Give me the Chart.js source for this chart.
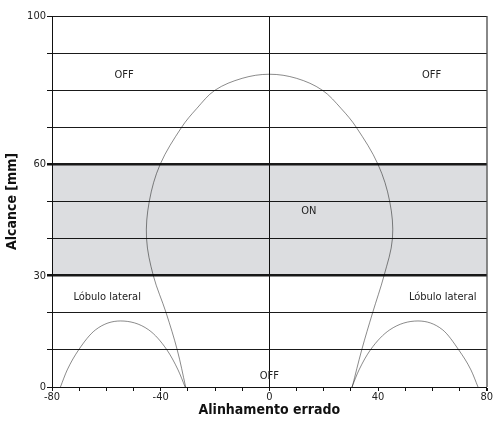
<!DOCTYPE html>
<html>
<head>
<meta charset="utf-8">
<script src="https://cdn.jsdelivr.net/npm/chart.js@4.4.1/dist/chart.umd.min.js"></script>
<style>
  html, body { margin: 0; padding: 0; background: #fff; overflow: hidden; }
  #wrap { width: 493px; height: 425px; }
</style>
</head>
<body>
<div id="wrap"><canvas id="myChart"></canvas></div>
<script>
const FONT = "'DejaVu Sans Condensed', 'Liberation Sans', Arial, sans-serif";

// main lobe (x = alinhamento, y = alcance)
const mainX = [-30.8, -33.9, -38, -42.7, -45.2, -44.2, -40.2, -32.3, -26.8, -20, -10, 0, 10, 19.5, 26.5, 32, 40, 44.3, 45.3, 42.2, 38, 34, 30.5];
const mainY = [0, 10, 20, 30, 40, 50, 60, 70, 75, 80, 83.2, 84.3, 83.2, 80, 75, 70, 60, 50, 40, 30, 20, 10, 0];

// side lobes
const leftLobeX = [-76.9, -74.4, -70.2, -64, -54.8, -44.4, -37.7, -33.6, -31];
const leftLobeY = [0, 4.6, 10, 15.4, 17.8, 15.4, 10, 4.6, 0];
const rightLobeX = [30.4, 33, 37.2, 44.3, 54.7, 63.8, 69.7, 74.2, 76.8];
const rightLobeY = [0, 4.6, 10, 15.4, 17.8, 15.4, 10, 4.6, 0];

// ON band
const bandX = [-80, 80];
const bandTop = [60, 60];
const bandBottom = 30;

const xTickLabels = [-80, -40, 0, 40, 80];
const yTickLabels = [0, 30, 60, 100];

const zoneText = ["OFF", "OFF", "ON", "Lóbulo lateral", "Lóbulo lateral", "OFF"];
const zoneX = [-53.5, 59.7, 14.5, -59.7, 63.8, 0];
const zoneY = [84, 84, 47.4, 24.3, 24.3, 3];

function pts(xs, ys) {
  return xs.map((x, i) => ({ x: x, y: ys[i] }));
}

// datasets are multiplied onto the grid so the lines under the band stay dark
const multiplyDatasets = {
  id: "multiplyDatasets",
  beforeDatasetsDraw(chart) {
    chart.ctx.save();
    chart.ctx.globalCompositeOperation = "multiply";
  },
  afterDatasetsDraw(chart) {
    chart.ctx.restore();
  }
};

const zoneLabels = {
  id: "zoneLabels",
  afterDraw(chart) {
    const c = chart.ctx;
    const xs = chart.scales.x, ys = chart.scales.y;
    c.save();
    c.font = "11px " + FONT;
    c.fillStyle = "#222";
    c.textAlign = "center";
    c.textBaseline = "middle";
    zoneText.forEach((t, i) => {
      c.fillText(t, xs.getPixelForValue(zoneX[i]), ys.getPixelForValue(zoneY[i]));
    });
    c.restore();
  }
};

const ctx = document.getElementById("myChart");

new Chart(ctx, {
  type: "scatter",
  data: {
    datasets: [
      {
        data: pts(mainX, mainY),
        showLine: true,
        borderColor: "#8a8a8a",
        borderWidth: 1,
        pointRadius: 0,
        tension: 0.35,
      },
      {
        data: pts(leftLobeX, leftLobeY),
        showLine: true,
        borderColor: "#8a8a8a",
        borderWidth: 1,
        pointRadius: 0,
        cubicInterpolationMode: "monotone",
      },
      {
        data: pts(rightLobeX, rightLobeY),
        showLine: true,
        borderColor: "#8a8a8a",
        borderWidth: 1,
        pointRadius: 0,
        cubicInterpolationMode: "monotone",
      },
      {
        data: pts(bandX, bandTop),
        showLine: true,
        borderWidth: 0,
        pointRadius: 0,
        backgroundColor: "#dcdde0",
        fill: { value: bandBottom },
      },
    ],
  },
  options: {
    responsive: true,
    maintainAspectRatio: false,
    animation: false,
    layout: { padding: { top: 16, right: 6, left: 0, bottom: 0 } },
    plugins: {
      legend: { display: false },
      tooltip: { enabled: false },
    },
    scales: {
      x: {
        type: "linear",
        min: -80,
        max: 80,
        border: { color: "#111", width: 1 },
        grid: {
          color: (c) => c.tick.value === 0 ? "#111" : (c.tick.value === 80 ? "#888" : "rgba(0,0,0,0)"),
          lineWidth: (c) => c.tick.value === 80 ? 2 : 1,
          tickColor: "#111",
          tickLength: 4,
        },
        ticks: {
          stepSize: 10,
          maxRotation: 0,
          autoSkip: false,
          padding: 0,
          color: "#222",
          font: { family: FONT, size: 11 },
          callback: (v) => xTickLabels.includes(v) ? String(v) : "",
        },
        title: {
          display: true,
          text: "Alinhamento errado",
          color: "#111",
          font: { family: FONT, size: 14, weight: "bold" },
          padding: { top: 0, bottom: 6 },
        },
        afterFit: (s) => { s.height = 38; },
      },
      y: {
        min: 0,
        max: 100,
        border: { color: "#111", width: 1 },
        grid: {
          color: "#1a1a1a",
          lineWidth: (c) => (c.tick.value === 30 || c.tick.value === 60) ? 2.5 : 1,
          tickColor: "#111",
          tickLength: 5,
        },
        ticks: {
          stepSize: 10,
          autoSkip: false,
          padding: 1,
          color: "#222",
          font: { family: FONT, size: 11 },
          callback: (v) => yTickLabels.includes(v) ? String(v) : "",
        },
        title: {
          display: true,
          text: "Alcance [mm]",
          color: "#111",
          font: { family: FONT, size: 14, weight: "bold" },
          padding: { top: 4, bottom: 0 },
        },
        afterFit: (s) => { s.width = 52; },
      },
    },
  },
  plugins: [multiplyDatasets, zoneLabels],
});
</script>
</body>
</html>
